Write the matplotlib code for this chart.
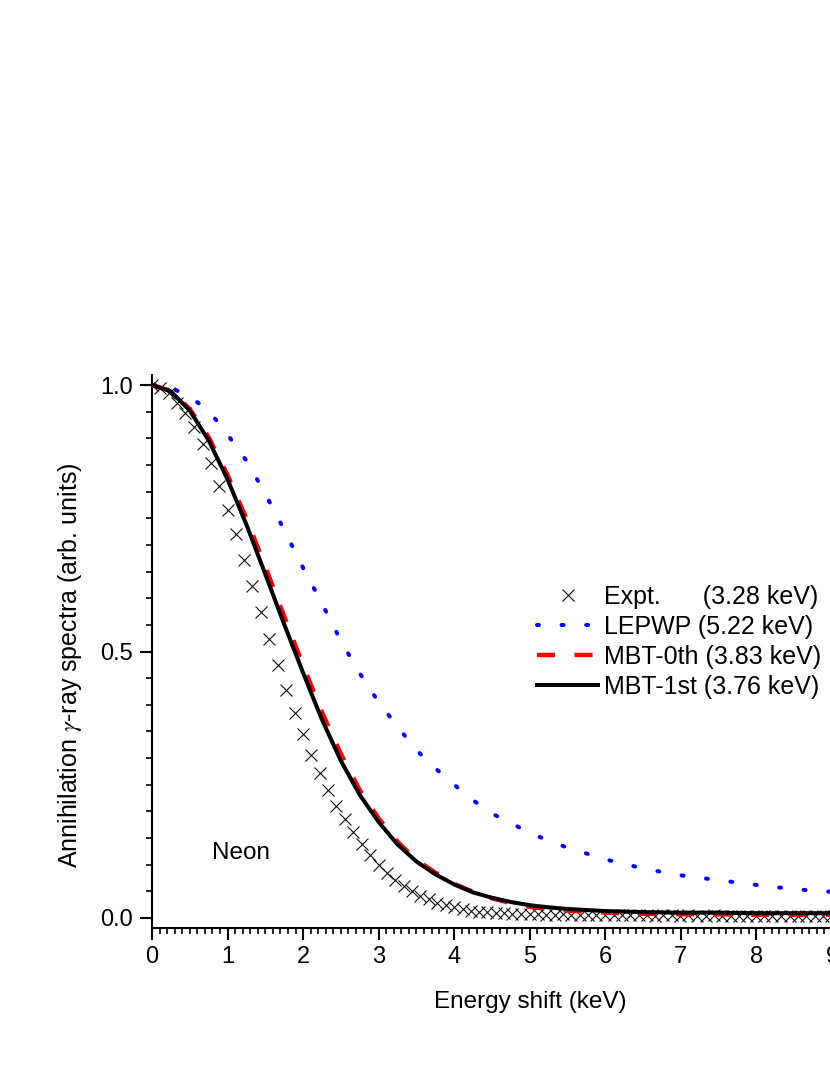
import matplotlib
matplotlib.use("Agg")
import matplotlib.pyplot as plt
from matplotlib.ticker import MultipleLocator, FixedLocator

plt.rcParams['font.family'] = ['Liberation Sans', 'DejaVu Sans']
plt.rcParams['mathtext.fontset'] = 'stix'
plt.rcParams['lines.scale_dashes'] = False

# ---------------- data ----------------
expt_x = [0.00, 0.11, 0.22, 0.33, 0.44, 0.56, 0.67, 0.78, 0.89, 1.00,
          1.11, 1.22, 1.33, 1.44, 1.55, 1.67, 1.78, 1.89, 2.00, 2.11,
          2.22, 2.33, 2.44, 2.55, 2.66, 2.78, 2.89, 3.00, 3.11, 3.22,
          3.33, 3.44, 3.55, 3.66, 3.77, 3.89, 4.00, 4.11, 4.22, 4.33,
          4.44, 4.55, 4.66, 4.77, 4.88, 5.00, 5.11, 5.22, 5.33, 5.44,
          5.55, 5.66, 5.77, 5.88, 5.99, 6.11, 6.22, 6.33, 6.44, 6.55,
          6.66, 6.77, 6.88, 6.99, 7.10, 7.22, 7.33, 7.44, 7.55, 7.66,
          7.77, 7.88, 7.99, 8.10, 8.21, 8.33, 8.44, 8.55, 8.66, 8.77,
          8.88, 8.99, 9.10]
expt_y = [1.000, 0.995, 0.985, 0.967, 0.947, 0.922, 0.890, 0.853, 0.811, 0.766,
          0.720, 0.671, 0.623, 0.574, 0.524, 0.474, 0.428, 0.385, 0.345, 0.306,
          0.272, 0.240, 0.211, 0.185, 0.161, 0.139, 0.118, 0.100, 0.085, 0.072,
          0.060, 0.050, 0.042, 0.035, 0.029, 0.024, 0.020, 0.017, 0.014, 0.012,
          0.011, 0.010, 0.009, 0.008, 0.008, 0.007, 0.007, 0.006, 0.006, 0.007,
          0.006, 0.006, 0.005, 0.006, 0.005, 0.005, 0.006, 0.005, 0.005, 0.005,
          0.004, 0.005, 0.005, 0.004, 0.005, 0.004, 0.004, 0.005, 0.004, 0.004,
          0.004, 0.004, 0.004, 0.004, 0.003, 0.004, 0.004, 0.003, 0.004, 0.003,
          0.003, 0.003, 0.003]

curve_x = [0.00, 0.25, 0.50, 0.75, 1.00, 1.25, 1.50, 1.75, 2.00, 2.25,
           2.50, 2.75, 3.00, 3.25, 3.50, 3.75, 4.00, 4.25, 4.50, 4.75,
           5.00, 5.25, 5.50, 5.75, 6.00, 6.50, 7.00, 7.50, 8.00, 8.50,
           9.00, 9.50, 10.00]
lepwp_y = [1.000, 0.995, 0.978, 0.952, 0.907, 0.858, 0.796, 0.728, 0.657, 0.590,
           0.520, 0.459, 0.405, 0.359, 0.315, 0.281, 0.250, 0.221, 0.196, 0.178,
           0.160, 0.145, 0.132, 0.121, 0.110, 0.093, 0.080, 0.071, 0.062, 0.054,
           0.049, 0.045, 0.041]
mbt0_y = [1.000, 0.989, 0.955, 0.902, 0.831, 0.749, 0.659, 0.566, 0.474, 0.386,
          0.308, 0.240, 0.187, 0.143, 0.109, 0.085, 0.064, 0.049, 0.037, 0.028,
          0.021, 0.017, 0.014, 0.012, 0.010, 0.008, 0.007, 0.007, 0.006, 0.006,
          0.006, 0.006, 0.006]
mbt1_y = [1.000, 0.988, 0.952, 0.896, 0.823, 0.738, 0.645, 0.551, 0.460, 0.372,
          0.295, 0.231, 0.180, 0.138, 0.106, 0.082, 0.063, 0.048, 0.038, 0.030,
          0.024, 0.020, 0.017, 0.015, 0.013, 0.011, 0.010, 0.010, 0.009, 0.009,
          0.009, 0.008, 0.008]

labels = ["Expt.      (3.28 keV)", "LEPWP (5.22 keV)",
          "MBT-0th (3.83 keV)", "MBT-1st (3.76 keV)"]

# ---------------- figure ----------------
W, H = 830, 1075
fig = plt.figure(figsize=(W / 100, H / 100), dpi=100)
left_px, right_px, top_px, bot_px = 152, 907.5, 375, 928
ax = fig.add_axes([left_px / W, 1 - bot_px / H,
                   (right_px - left_px) / W, (bot_px - top_px) / H])

ax.plot(expt_x, expt_y, linestyle='none', marker='x', markersize=8.6,
        markeredgewidth=0.8, color='#111111', label=labels[0], zorder=2)
l_b, = ax.plot(curve_x, lepwp_y, color='#0000FF', lw=2.9, label=labels[1],
               dash_capstyle='round', zorder=3)
l_b.set_dashes((1.4, 16.3))
l_r, = ax.plot(curve_x, mbt0_y, color='#FF0000', lw=3.2, label=labels[2],
               dash_capstyle='butt', zorder=4)
l_r.set_dashes((13, 14))
ax.plot(curve_x, mbt1_y, color='black', lw=2.9, label=labels[3], zorder=5)

ax.set_xlim(0, 10)
ax.set_ylim(-10 / 533, 1 + 10 / 533)

for s in ['top', 'right']:
    ax.spines[s].set_visible(False)
for s in ['left', 'bottom']:
    ax.spines[s].set_linewidth(1.5)

ax.xaxis.set_major_locator(MultipleLocator(1))
ax.xaxis.set_minor_locator(MultipleLocator(0.1))
ax.yaxis.set_major_locator(FixedLocator([0.0, 0.5, 1.0]))
ax.yaxis.set_minor_locator(MultipleLocator(0.05))
ax.set_yticklabels(["0.0", "0.5", "1.0"])
ax.tick_params(which='major', direction='out', length=8.6, width=1.5,
               labelsize=17)
ax.tick_params(which='minor', direction='out', length=4.5, width=1.2)
ax.tick_params(axis='x', which='major', pad=4.5)
ax.tick_params(axis='y', which='major', pad=5)

ax.set_xlabel("Energy shift (keV)", fontsize=17.5, va='baseline')
ax.xaxis.set_label_coords(0.5, (bot_px - 1008) / (bot_px - top_px))
ax.set_ylabel(r"Annihilation $\gamma$-ray spectra (arb. units)", fontsize=18,
              va='center', ha='center')
ax.yaxis.set_label_coords((70 - left_px) / (right_px - left_px),
                          (bot_px - 665) / (bot_px - top_px))

ax.text(0.794, 0.111, "Neon", fontsize=17.5, ha='left', va='baseline')

ax.legend(loc='upper left', bbox_to_anchor=(537 / W, 1 - 585 / H),
          bbox_transform=fig.transFigure, frameon=False, fontsize=18,
          borderpad=0, borderaxespad=0, handlelength=2.45,
          handletextpad=0.22, labelspacing=0.24, numpoints=1)

fig.savefig("out.png", dpi=100)
